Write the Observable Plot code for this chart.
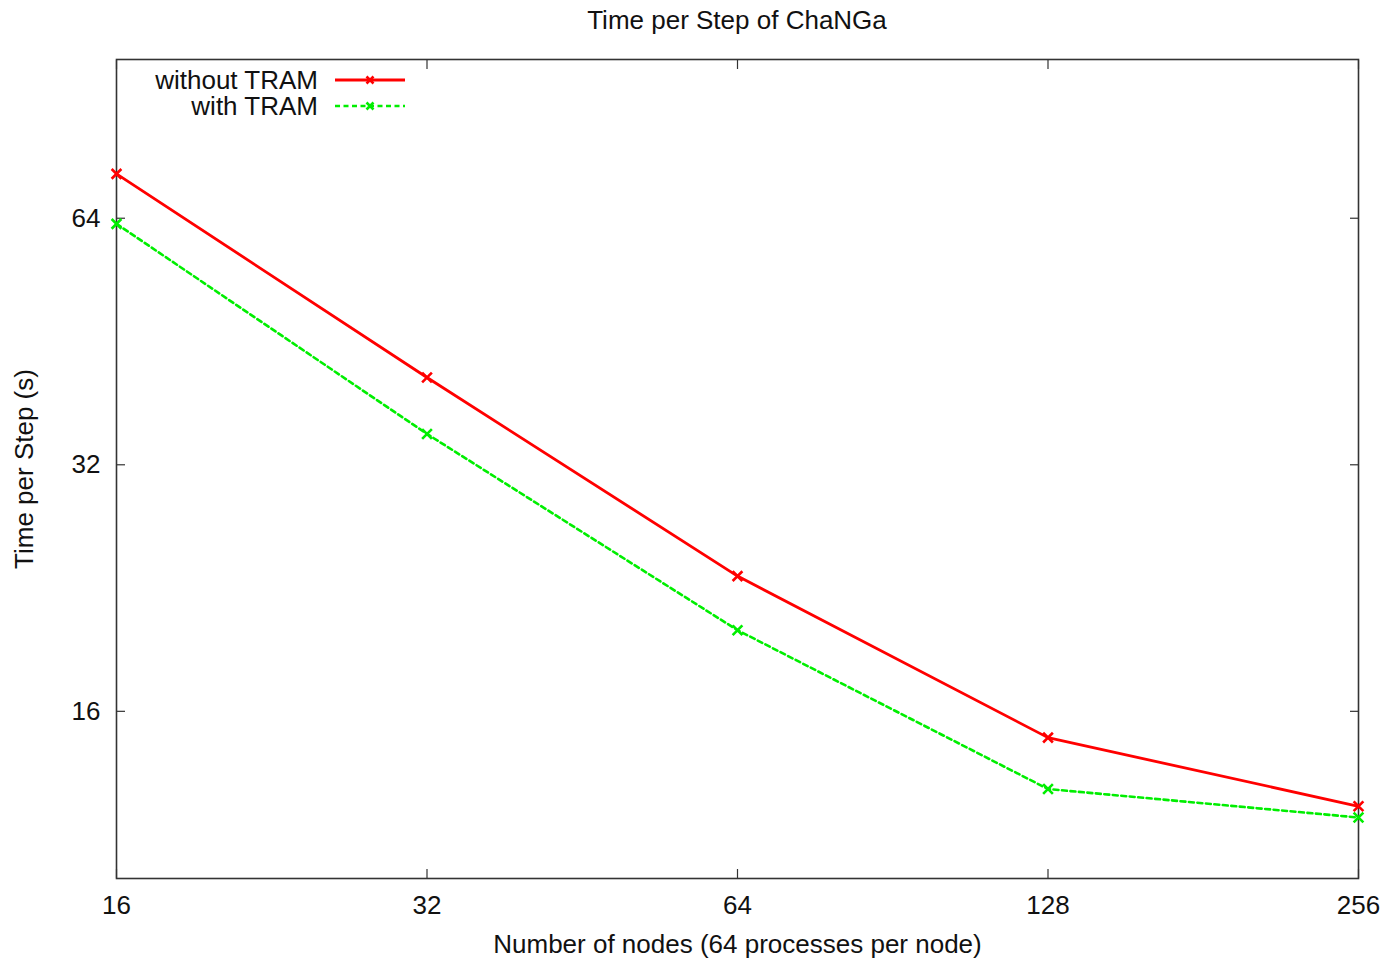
<!DOCTYPE html>
<html>
<head>
<meta charset="utf-8">
<script src="https://cdn.jsdelivr.net/npm/d3@7"></script>
<script src="https://cdn.jsdelivr.net/npm/@observablehq/plot@0.6"></script>
<style>
  body { margin: 0; background: #fff; }
  #wrap { position: relative; width: 1383px; height: 960px; font-family: "Liberation Sans", Arial, Helvetica, sans-serif; color: #111; }
  #title { position: absolute; left: 116px; width: 1242px; top: 0; height: 40px; line-height: 40px; text-align: center; font-size: 26px; }
  #chart { position: absolute; left: 0; top: 40px; }
  #legendText { position: absolute; left: 0; top: 67px; width: 318px; text-align: right; font-size: 26px; line-height: 26px; white-space: pre-line; }
  #legendKeys { position: absolute; left: 334px; top: 67px; }
</style>
</head>
<body>
<div id="wrap">
  <div id="title"></div>
  <div id="chart"></div>
  <div id="legendText"></div>
  <div id="legendKeys"></div>
</div>
<script>
const titleText = "Time per Step of ChaNGa";
const xLabel = "Number of nodes (64 processes per node)";
const yLabel = "Time per Step (s)";

const nodes = [16, 32, 64, 128, 256];
const withoutTram = [72.5, 40.9, 23.4, 14.86, 12.25];
const withTram = [63.0, 34.9, 20.1, 12.86, 11.87];

const seriesNames = ["without TRAM", "with TRAM"];
const seriesColors = ["#ff0000", "#00ee00"];
const seriesDash = [null, "5,3.5"];
const seriesWidth = [2.8, 2.6];

const xTicks = [16, 32, 64, 128, 256];
const yTicks = [16, 32, 64];

const rows = [];
[withoutTram, withTram].forEach((vals, s) => {
  vals.forEach((v, i) => rows.push({series: seriesNames[s], nodes: nodes[i], time: v}));
});

document.getElementById("title").textContent = titleText;

const font = "Liberation Sans, Arial, Helvetica, sans-serif";
const chart = Plot.plot({
  width: 1383,
  height: 920,
  marginLeft: 116,
  marginRight: 25,
  marginTop: 19,
  marginBottom: 82,
  style: {fontFamily: font, fontSize: "26px", color: "#111", background: "#fff", overflow: "visible"},
  x: {type: "log", base: 2, domain: [16, 256]},
  y: {type: "log", base: 2, domain: [10, 100]},
  marks: [
    Plot.axisX({ticks: xTicks, tickFormat: d => String(d), tickSize: -9, tickPadding: 26, stroke: "#333", strokeWidth: 1.2,
      label: xLabel, labelAnchor: "center", labelOffset: 74, labelArrow: "none", fontSize: 26}),
    Plot.axisX({anchor: "top", ticks: xTicks, tickFormat: () => null, tickSize: -9, stroke: "#333", strokeWidth: 1.2, label: null}),
    Plot.axisY({ticks: yTicks, tickFormat: d => String(d), tickSize: -9, tickPadding: 25, stroke: "#333", strokeWidth: 1.2,
      label: yLabel, labelAnchor: "center", labelOffset: 102, labelArrow: "none", fontSize: 26}),
    Plot.axisY({anchor: "right", ticks: yTicks, tickFormat: () => null, tickSize: -9, stroke: "#333", strokeWidth: 1.2, label: null}),
    Plot.frame({stroke: "#333", strokeWidth: 1.6}),
    ...seriesNames.map((name, s) => Plot.line(rows.filter(r => r.series === name), {
      x: "nodes", y: "time", stroke: seriesColors[s], strokeWidth: seriesWidth[s],
      strokeDasharray: seriesDash[s], clip: false
    })),
    ...seriesNames.map((name, s) => Plot.dot(rows.filter(r => r.series === name), {
      x: "nodes", y: "time", symbol: "times", r: 4.5, stroke: seriesColors[s], strokeWidth: 2.6
    }))
  ]
});
document.getElementById("chart").appendChild(chart);

// Legend: labels as one right-aligned block, keys as one small SVG
document.getElementById("legendText").textContent = seriesNames.join("\n");
const ns = "http://www.w3.org/2000/svg";
const keys = document.createElementNS(ns, "svg");
keys.setAttribute("width", 74);
keys.setAttribute("height", 52);
seriesNames.forEach((name, s) => {
  const cy = 13 + 26 * s;
  const line = document.createElementNS(ns, "line");
  line.setAttribute("x1", 1); line.setAttribute("x2", 71);
  line.setAttribute("y1", cy); line.setAttribute("y2", cy);
  line.setAttribute("stroke", seriesColors[s]);
  line.setAttribute("stroke-width", seriesWidth[s]);
  if (seriesDash[s]) line.setAttribute("stroke-dasharray", seriesDash[s]);
  keys.appendChild(line);
  const m = document.createElementNS(ns, "path");
  m.setAttribute("d", `M32.5,${cy - 3.5}L39.5,${cy + 3.5}M39.5,${cy - 3.5}L32.5,${cy + 3.5}`);
  m.setAttribute("stroke", seriesColors[s]);
  m.setAttribute("stroke-width", 2.6);
  keys.appendChild(m);
});
document.getElementById("legendKeys").appendChild(keys);
</script>
</body>
</html>
